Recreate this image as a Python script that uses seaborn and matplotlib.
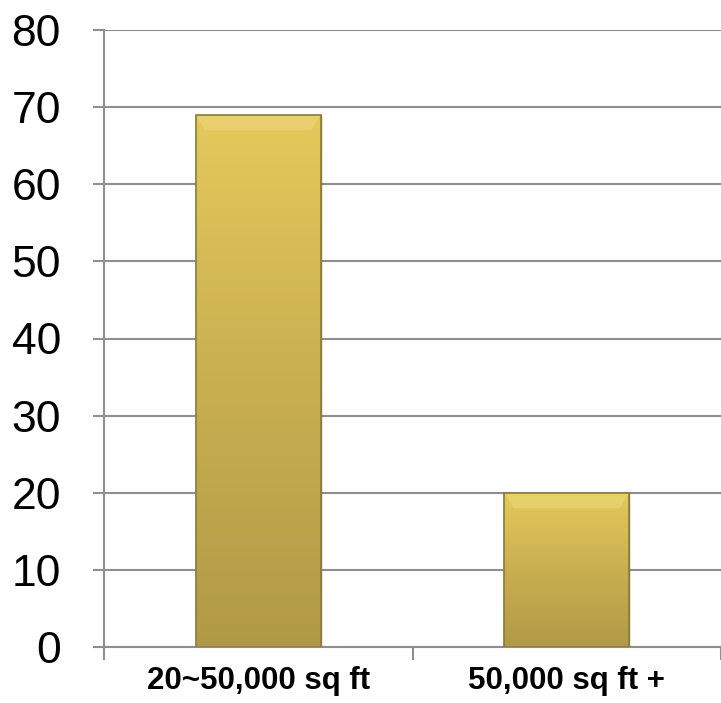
import numpy as np
import pandas as pd
import matplotlib
matplotlib.use("Agg")
import matplotlib.pyplot as plt
from matplotlib.colors import LinearSegmentedColormap
import seaborn as sns

categories = ["20~50,000 sq ft", "50,000 sq ft +"]
values = [69, 20]
y_ticks = [0, 10, 20, 30, 40, 50, 60, 70, 80]

sns.set_theme(style="white")
plt.rcParams["font.family"] = ["Liberation Sans", "DejaVu Sans"]

df = pd.DataFrame({"size": categories, "count": values})

fig = plt.figure(figsize=(7.21, 7.03), dpi=100)
ax = fig.add_axes([104 / 721, 56 / 703, 617 / 721, 617 / 703])

sns.barplot(data=df, x="size", y="count", ax=ax, width=0.405,
            color="#D4BA55", edgecolor="#8C7C3A", linewidth=1.0, zorder=3)

ax.set_ylim(0, 80)
ax.set_xlim(-0.5, 1.5)
ax.set_yticks(y_ticks)
ax.set_yticklabels([str(v) for v in y_ticks], fontsize=32, color="black")
ax.set_xticklabels(categories, fontsize=22.5, fontweight="bold", color="black")
ax.set_xlabel("")
ax.set_ylabel("")

# horizontal gridlines
ax.yaxis.grid(True, color="#8E8E8E", linewidth=1.5, zorder=0)
ax.xaxis.grid(False)
for side in ["top", "right"]:
    ax.spines[side].set_visible(False)
for side in ["left", "bottom"]:
    ax.spines[side].set_color("#8E8E8E")
    ax.spines[side].set_linewidth(1.5)

# y ticks pointing outward, x ticks at category boundaries
ax.tick_params(axis="y", which="major", direction="out", length=8, width=1.5,
               color="#8E8E8E", pad=23, left=True)
ax.tick_params(axis="x", which="major", length=0, pad=14)
ax.set_xticks([-0.5, 0.5, 1.5], minor=True)
ax.tick_params(axis="x", which="minor", direction="out", length=9, width=1.5,
               color="#8E8E8E", bottom=True)

# vertical gold gradient with a bevelled top on each bar
cmap = LinearSegmentedColormap.from_list("gold", ["#B19A47", "#C9AF50", "#E4C95C"])
grad = np.linspace(0, 1, 256).reshape(-1, 1)
for patch in ax.patches:
    x0, y0 = patch.get_x(), patch.get_y()
    w, h = patch.get_width(), patch.get_height()
    im = ax.imshow(grad, cmap=cmap, origin="lower", aspect="auto",
                   extent=[x0, x0 + w, y0, y0 + h], zorder=3.5)
    im.set_clip_path(patch)
    bev_h = 2.0
    bev_w = 0.03
    ax.fill([x0, x0 + w, x0 + w - bev_w, x0 + bev_w],
            [y0 + h, y0 + h, y0 + h - bev_h, y0 + h - bev_h],
            color="#EED77A", alpha=0.6, zorder=3.6, linewidth=0)
    ax.add_patch(plt.Rectangle((x0, y0), w, h, fill=False,
                               edgecolor="#8C7C3A", linewidth=1.2, zorder=3.7))

fig.savefig("out.png", dpi=100)
